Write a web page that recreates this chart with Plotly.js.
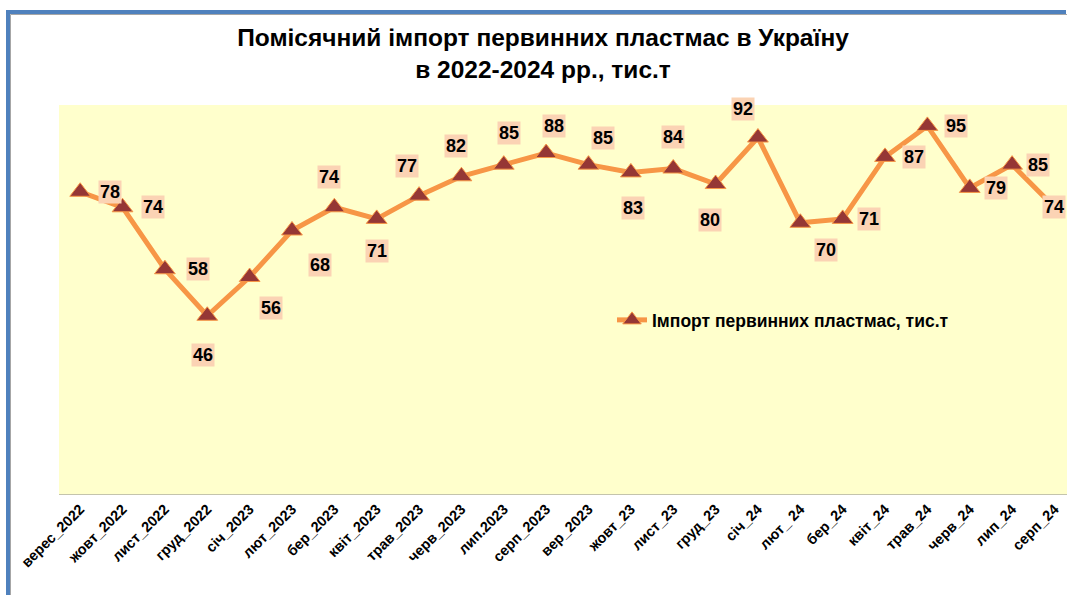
<!DOCTYPE html>
<html>
<head>
<meta charset="utf-8">
<script src="https://cdn.plot.ly/plotly-3.0.1.min.js"></script>
<style>html,body{margin:0;padding:0;background:#fff;}#chart{width:1067px;height:595px;}</style>
</head>
<body>
<div id="chart"></div>
<script>
const categories = ["верес_2022","жовт_2022","лист_2022","груд_2022","січ_2023","лют_2023","бер_2023","квіт_2023","трав_2023","черв_2023","лип.2023","серп_2023","вер_2023","жовт_23","лист_23","груд_23","січ_24","лют_ 24","бер_24","квіт_24","трав_24","черв_24","лип_24","серп_24"];
const importValues = [78,74,58,46,56,68,74,71,77,82,85,88,85,83,84,80,92,70,71,87,95,79,85,74];
const seriesName = "Імпорт первинних пластмас, тис.т";
const titleText = "Помісячний імпорт первинних пластмас в Україну<br>в 2022-2024 рр., тис.т";
// label offsets in pixels [dx, dy(down)] — styling only
const labelOffsets = [[30,0],[30,0],[33,0],[-4,39],[21,31],[28,34],[-5,-30],[0,32],[-12,-30],[-5,-30],[5,-32],[8,-27],[14,-27],[2,36],[0,-32],[-6,36],[-15,-29],[26,27],[26,0],[29,0],[29,0],[26,0],[26,0],[0,0]];

const FONT = '"Liberation Sans", Arial, sans-serif';
const L = 59, T = 105, W = 1067, H = 595, B = 101;
const plotW = W - L, plotH = H - T - B;
const px = p => (p - L) / plotW;
const py = p => (H - B - p) / plotH;

const trace = {
  x: categories, y: importValues, type: 'scatter', mode: 'lines+markers',
  name: seriesName,
  line: {color: '#F79646', width: 5},
  marker: {symbol: 'triangle-up', size: 18, color: '#953735', line: {color: '#F79646', width: 1}},
  cliponaxis: false
};

const annotations = importValues.map((v, i) => ({
  x: categories[i], y: v, xref: 'x', yref: 'y', text: String(v), showarrow: false,
  xshift: labelOffsets[i][0], yshift: -labelOffsets[i][1],
  font: {family: FONT, size: 18, color: '#000', weight: 'bold'},
  bgcolor: '#FBD3B4', borderpad: 1
}));

const shapes = [
  {type: 'line', xref: 'paper', yref: 'paper', x0: px(10.5), x1: px(10.5), y0: py(14.5), y1: py(600), line: {color: '#A6A6A6', width: 1}},
  {type: 'line', xref: 'paper', yref: 'paper', x0: px(10.5), x1: px(1070), y0: py(14.5), y1: py(14.5), line: {color: '#A6A6A6', width: 1}},
  {type: 'line', xref: 'paper', yref: 'paper', x0: px(8), x1: px(8), y0: py(10), y1: py(600), line: {color: '#4F81BD', width: 4}},
  {type: 'line', xref: 'paper', yref: 'paper', x0: px(6), x1: px(1066), y0: py(12), y1: py(12), line: {color: '#4F81BD', width: 4}}
];

const layout = {
  width: W, height: H,
  margin: {l: L, r: 0, t: T, b: B, pad: 0},
  paper_bgcolor: '#FFFFFF', plot_bgcolor: '#FFFFCC',
  title: {text: titleText, x: 543 / W, xref: 'container', xanchor: 'center', y: 1 - 46 / H, yref: 'container', yanchor: 'middle',
    font: {family: FONT, size: 24.5, color: '#000', weight: 'bold'}},
  xaxis: {type: 'category', range: [-0.5, -0.5 + plotW / 42.36], showgrid: false, zeroline: false,
    showline: true, linecolor: '#C4C4AC', linewidth: 1, ticks: '', tickangle: -45,
    tickfont: {family: FONT, size: 14.5, color: '#000', weight: 'bold'}, fixedrange: true},
  yaxis: {range: [0, 100.4], visible: false, showgrid: false, zeroline: false, fixedrange: true},
  showlegend: true,
  legend: {x: px(612), y: py(320), xanchor: 'left', yanchor: 'middle', bgcolor: 'rgba(0,0,0,0)',
    font: {family: FONT, size: 17.5, color: '#000', weight: 'bold'}, itemwidth: 30},
  annotations: annotations,
  shapes: shapes
};

Plotly.newPlot('chart', [trace], layout, {displayModeBar: false, staticPlot: true});
</script>
</body>
</html>
